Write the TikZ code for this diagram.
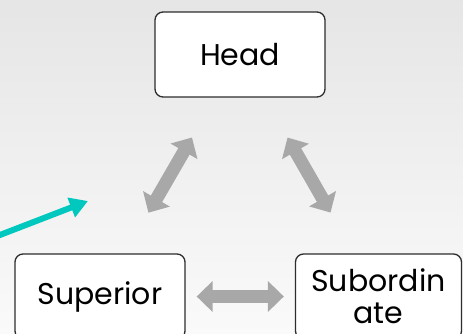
\documentclass[tikz,border=0pt]{standalone}
\usepackage{fontspec}
\setmainfont{Poppins}
\usepackage{tikz}
\usetikzlibrary{arrows.meta,positioning}
\definecolor{roleteal}{RGB}{0,200,190}
\definecolor{rolegray}{RGB}{168,168,168}
\definecolor{roleframe}{RGB}{45,45,45}

\begin{document}
\begin{tikzpicture}[x=1pt,y=-1pt,
    rolebox/.style={draw=roleframe,line width=1.3pt,rounded corners=8pt,fill=white,
        minimum width=170pt,minimum height=85pt,inner sep=2pt,align=center,
        font=\fontsize{30}{32}\selectfont},
    link/.style={rolegray,line width=13pt,
        {Triangle[width=30pt,length=16pt]}-{Triangle[width=30pt,length=16pt]}}]
    \useasboundingbox (0,0) rectangle (463,333);
    % Background
    \shade[top color=black!10,bottom color=black!2] (0,0) rectangle (463,333);
    \clip (0,0) rectangle (463,333);

    % Roles
    \node[rolebox] (head) at (240,54.5) {Head};
    \node[rolebox] (superior) at (100,296.5) {Superior};
    \node[rolebox,minimum width=166pt] (subordinate) at (378.5,296.5) {Subordin\\ate};

    % Two-way links
    \draw[link,shorten <=46pt,shorten >=47pt] (head) -- (superior);
    \draw[link,shorten <=46pt,shorten >=47pt] (head) -- (subordinate);
    \draw[link,shorten <=11pt,shorten >=11pt] (superior) -- (subordinate);

    % Incoming arrow
    \coordinate (feedstart) at (-4,236.5);
    \coordinate (feedtip) at (88,201);
    \draw[roleteal,line width=6pt,-{Triangle[width=20pt,length=18pt]}] (feedstart) -- (feedtip);
\end{tikzpicture}
\end{document}
